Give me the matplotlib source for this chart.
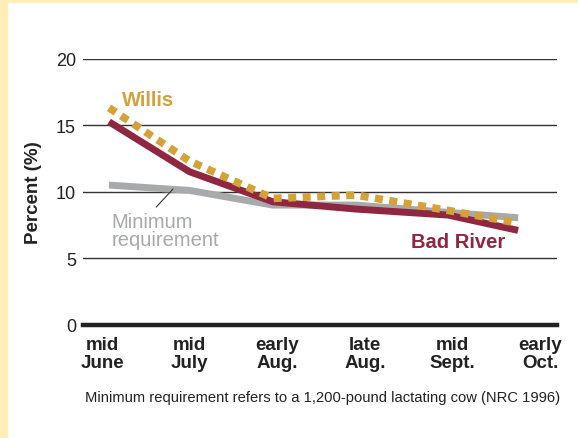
import matplotlib.pyplot as plt
from matplotlib.patches import Rectangle

plt.rcParams['font.family'] = ['Liberation Sans', 'DejaVu Sans']

# periods on the x axis (index positions) and their labels
periodos = ['mid\nJune', 'mid\nJuly', 'early\nAug.', 'late\nAug.', 'mid\nSept.', 'early\nOct.']
x_datos = [0.08, 1.0, 1.95, 2.9, 3.95, 4.75]

# crude protein, percent
bad_river = [15.25, 11.5, 9.25, 8.7, 8.25, 7.1]
willis = [16.3, 12.3, 9.5, 9.75, 8.6, 7.65]
minimo = [10.5, 10.1, 9.0, 9.0, 8.45, 8.05]

yticks = [0, 5, 10, 15, 20]

granate = '#8F2740'
dorado = '#D4A236'
gris = '#A8A9AB'

fig = plt.figure(figsize=(5.78, 4.39), dpi=100)
fig.patches.append(Rectangle((0, 0), 7 / 578, 1, transform=fig.transFigure,
                             color='#FFEEB8', zorder=0))
fig.patches.append(Rectangle((0, 1 - 3 / 439), 1, 3 / 439, transform=fig.transFigure,
                             color='#FFEEB8', zorder=0))

ax = fig.add_axes([83 / 578, 113 / 439, 474 / 578, 266.5 / 439])
ax.set_xlim(-0.217, 5.194)
ax.set_ylim(0, 20)

for v in yticks[1:]:
    ax.axhline(v, color='#333333', linewidth=1.0, zorder=1)
ax.axhline(0, color='#222222', linewidth=3.2, zorder=1, clip_on=False)

ax.plot(x_datos, minimo, color=gris, linewidth=5.0, solid_capstyle='butt',
        solid_joinstyle='miter', zorder=2)
ax.plot(x_datos, bad_river, color=granate, linewidth=5.0, solid_capstyle='butt',
        solid_joinstyle='miter', zorder=3)
ax.plot(x_datos, willis, color=dorado, linewidth=5.5, dashes=(1.05, 0.85),
        dash_capstyle='butt', zorder=4)

# etiquetas de las series
ax.text(0.23, 16.96, 'Willis', color=dorado, fontsize=14.5, fontweight='bold',
        va='center', ha='left')
ax.text(3.53, 6.3, 'Bad River', color=granate, fontsize=14.5, fontweight='bold',
        va='center', ha='left')
ax.text(0.11, 7.1, 'Minimum\nrequirement', color=gris, fontsize=14.5,
        va='center', ha='left', linespacing=0.95)
ax.plot([0.62, 0.81], [8.86, 10.2], color='#333333', linewidth=0.8, zorder=5)

ax.set_yticks(yticks)
ax.set_xticks(range(len(periodos)))
ax.set_xticklabels(periodos, fontsize=13.5, fontweight='bold', linespacing=1.05)
ax.tick_params(axis='y', length=0, pad=5, labelsize=13, labelcolor='#222222')
ax.tick_params(axis='x', length=0, pad=8, labelcolor='#222222')
for s in ax.spines.values():
    s.set_visible(False)

fig.text(33 / 578, 1 - 193 / 439, 'Percent (%)', rotation=90, fontsize=13.5,
         fontweight='bold', ha='center', va='center', color='#222222')
fig.text(85 / 578, 1 - 398 / 439,
         'Minimum requirement refers to a 1,200-pound lactating cow (NRC 1996)',
         fontsize=10.6, ha='left', va='center', color='#222222')

fig.savefig('out.png', dpi=100)
